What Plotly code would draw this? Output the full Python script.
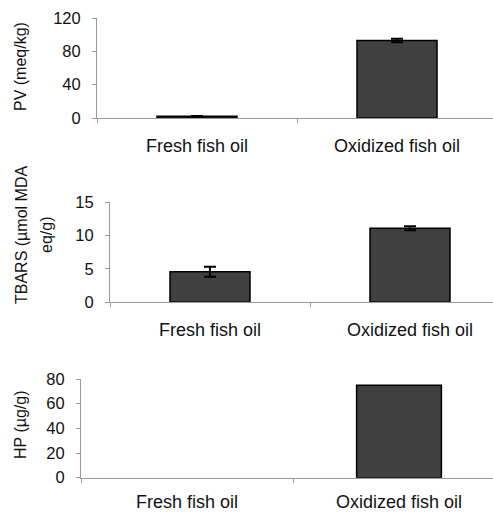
import plotly.graph_objects as go

categories = ["Fresh fish oil", "Oxidized fish oil"]
pv_values = [2, 93]
pv_errors = [0.3, 2]
tbars_values = [4.6, 11.1]
tbars_errors = [0.75, 0.3]
hp_values = [0, 75]
hp_errors = [0, 0]

W, H = 493, 512
FONT = "Liberation Sans, Arial, sans-serif"
BAR_COLOR = "#404040"
AXIS_COLOR = "#9a9a9a"

fig = go.Figure()

panels = [
    dict(vals=pv_values, errs=pv_errors, x0=97, ytop=18, ybot=118, yr=[0, 120], dtick=40, cw=200,
         titles=[("PV (meq/kg)", 20, 67)], show_err=True, standoff=11),
    dict(vals=tbars_values, errs=tbars_errors, x0=110, ytop=202.3, ybot=302.3, yr=[0, 15], dtick=5, cw=200,
         titles=[("TBARS (µmol MDA", 21, 235), ("eq/g)", 46, 235)], show_err=True, standoff=11),
    dict(vals=hp_values, errs=hp_errors, x0=81, ytop=379, ybot=477.7, yr=[0, 80], dtick=20, cw=212,
         titles=[("HP (µg/g)", 20, 425)], show_err=False, standoff=8),
]

annotations = []
for i, p in enumerate(panels, start=1):
    xa = "x" if i == 1 else f"x{i}"
    ya = "y" if i == 1 else f"y{i}"
    line_widths = [0 if v == 0 else 1.5 for v in p["vals"]]
    fig.add_trace(go.Bar(
        x=categories, y=p["vals"], xaxis=xa, yaxis=ya, width=0.4,
        marker=dict(color=BAR_COLOR, line=dict(color="black", width=line_widths)),
        error_y=dict(type="data", array=p["errs"], color="black", thickness=2, width=6,
                     visible=p["show_err"]),
        showlegend=False,
    ))
    xend = (W - p["x0"]) / p["cw"] - 0.5
    fig.layout[f"xaxis{'' if i == 1 else i}"] = dict(
        domain=[p["x0"] / W, 1], anchor=ya, type="category", automargin=False,
        range=[-0.5, xend], showline=True, linecolor=AXIS_COLOR, linewidth=1,
        ticks="outside", ticklen=4, tickcolor=AXIS_COLOR, tickson="boundaries",
        showgrid=False, zeroline=False, fixedrange=True,
        tickfont=dict(family=FONT, size=18, color="#111"), ticklabelstandoff=p["standoff"],
    )
    fig.layout[f"yaxis{'' if i == 1 else i}"] = dict(
        domain=[(H - p["ybot"]) / H, (H - p["ytop"]) / H], anchor=xa, automargin=False,
        range=p["yr"], dtick=p["dtick"], showline=True, linecolor=AXIS_COLOR, linewidth=1,
        ticks="outside", ticklen=4, tickcolor=AXIS_COLOR,
        showgrid=False, zeroline=False, fixedrange=True,
        tickfont=dict(family=FONT, size=16.5, color="#111"), ticklabelstandoff=8,
    )
    for text, tx, ty in p["titles"]:
        annotations.append(dict(
            text=text, x=tx / W, y=(H - ty) / H, xref="paper", yref="paper",
            xanchor="center", yanchor="middle", textangle=-90, showarrow=False,
            font=dict(family=FONT, size=16, color="#111"),
        ))

fig.update_layout(
    width=W, height=H, margin=dict(l=0, r=0, t=0, b=0),
    paper_bgcolor="white", plot_bgcolor="white",
    annotations=annotations, bargap=0.6,
)

fig.write_html(
    "out.html",
    config={"displayModeBar": False},
    post_script="document.body.style.margin='0';document.body.style.overflow='hidden';",
)
